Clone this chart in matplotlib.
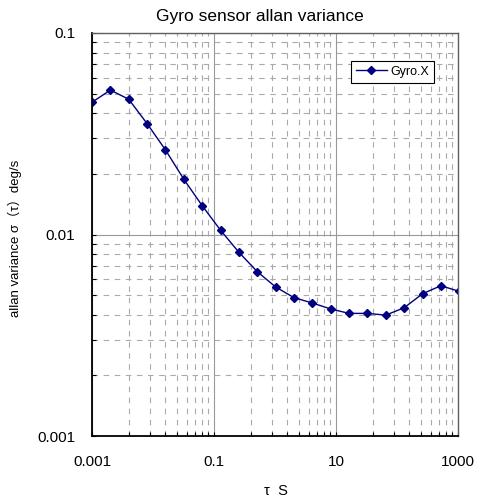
import numpy as np
import matplotlib
matplotlib.use("Agg")
import matplotlib.pyplot as plt
from matplotlib.ticker import FixedLocator, NullFormatter, LogLocator

plt.rcParams['font.family'] = ['Liberation Sans', 'Noto Sans CJK JP', 'DejaVu Sans']

# averaging time tau (s) and allan deviation of gyro X
tau = [0.001, 0.002, 0.004, 0.008, 0.016, 0.032, 0.064, 0.128, 0.256, 0.512,
       1.024, 2.048, 4.096, 8.192, 16.384, 32.768, 65.536, 131.072, 262.144,
       524.288, 1048.576]
gyro_x = [0.0453, 0.0521, 0.0469, 0.0355, 0.0263, 0.0188, 0.0139, 0.0105,
          0.00816, 0.00654, 0.00549, 0.00486, 0.00457, 0.00427, 0.00406,
          0.00406, 0.00398, 0.00433, 0.00508, 0.00557, 0.00522]

x_major = [0.001, 0.1, 10, 1000]
x_labels = ["0.001", "0.1", "10", "1000"]
y_major = [0.001, 0.01, 0.1]
y_labels = ["0.001", "0.01", "0.1"]

fig = plt.figure(figsize=(4.79, 5.01), dpi=100)
ax = fig.add_axes([92/479, 1-436/501, 366/479, 403/501])

ax.plot(tau, gyro_x, color='#000080', lw=1.0, marker='D', ms=4,
        markerfacecolor='#000080', markeredgecolor='#000080', label='Gyro.X',
        clip_on=True)

ax.set_xscale('log')
ax.set_yscale('log')
ax.set_xlim(0.001, 1000)
ax.set_ylim(0.001, 0.1)

# excel style minor ticks: major * k^2 for two-decade major steps
x_minor = [m * k * k for m in x_major[:-1] for k in range(2, 10)]
ax.xaxis.set_major_locator(FixedLocator(x_major))
ax.xaxis.set_minor_locator(FixedLocator(x_minor))
ax.set_xticks(x_major)
ax.set_xticklabels(x_labels)
ax.xaxis.set_minor_formatter(NullFormatter())
ax.yaxis.set_major_locator(FixedLocator(y_major))
ax.yaxis.set_minor_locator(LogLocator(base=10, subs=np.arange(2, 10)))
ax.set_yticks(y_major)
ax.set_yticklabels(y_labels)
ax.yaxis.set_minor_formatter(NullFormatter())

ax.tick_params(axis='both', which='both', direction='in', length=3,
               width=0.8, color='black', labelsize=11)
ax.tick_params(axis='x', which='major', pad=14)
ax.tick_params(axis='y', which='major', pad=12)

ax.grid(True, which='major', color='#999999', lw=0.8, ls='-')
ax.grid(True, which='minor', color='#aaaaaa', lw=0.8, ls=(0, (5, 5)))
ax.set_axisbelow(True)

for s in ['left', 'bottom']:
    ax.spines[s].set_color('black')
    ax.spines[s].set_linewidth(1.3)
for s in ['top', 'right']:
    ax.spines[s].set_color('#606060')
    ax.spines[s].set_linewidth(1.0)

fig.text(259.5/479, 1-17/501, 'Gyro sensor allan variance', ha='center',
         va='center', fontsize=12.5)
fig.text(15/479, 1-238/501, 'allan variance σ（τ）deg/s', rotation=90,
         ha='center', va='center', fontsize=9.5)
fig.text(276/479, 1-491/501, 'τ  S', ha='center', va='center', fontsize=10.5)

leg = ax.legend(loc='upper left', bbox_to_anchor=((350.7-92)/366, 1-(60.7-33)/403),
                fontsize=9, frameon=True, fancybox=False, borderpad=0.4,
                handlelength=2.5, handletextpad=0.3, borderaxespad=0)
leg.get_frame().set_edgecolor('black')
leg.get_frame().set_linewidth(0.8)
leg.get_frame().set_alpha(1)

fig.savefig('out.png', dpi=100)
